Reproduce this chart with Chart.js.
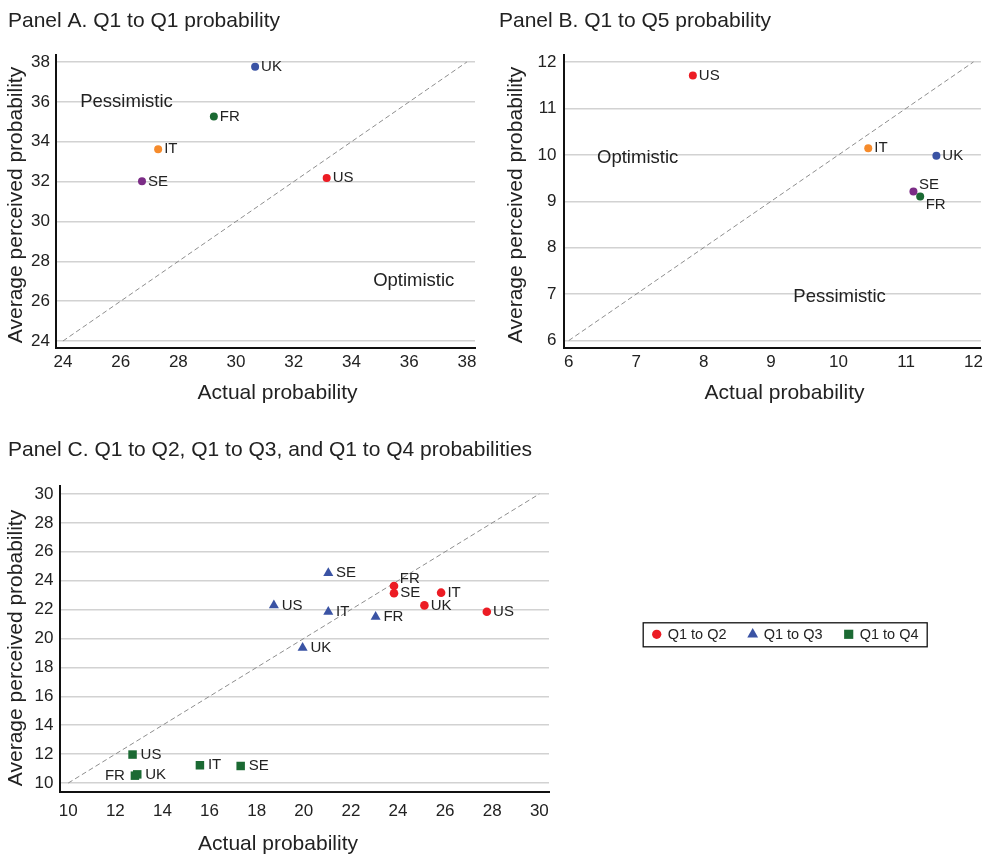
<!DOCTYPE html>
<html>
<head>
<meta charset="utf-8">
<script src="https://cdn.jsdelivr.net/npm/chart.js@4.4.1/dist/chart.umd.min.js"></script>
<style>
  body { margin: 0; background: #fff; }
  #wrap { position: relative; width: 987px; height: 854px; }
  canvas { position: absolute; }
</style>
</head>
<body>
<div id="wrap">
  <canvas id="panelA" width="493" height="420" style="left:0;top:0"></canvas>
  <canvas id="panelB" width="494" height="420" style="left:493px;top:0"></canvas>
  <canvas id="panelC" width="987" height="434" style="left:0;top:420px"></canvas>
</div>
<script>
// Panel A: Q1 to Q1
const countriesA = ['UK', 'FR', 'IT', 'SE', 'US'];
const actualA = [30.66, 29.23, 27.30, 26.74, 33.14];
const perceivedA = [37.76, 35.26, 33.62, 32.01, 32.18];
const ticksA = [24, 26, 28, 30, 32, 34, 36, 38];

// Panel B: Q1 to Q5
const countriesB = ['US', 'IT', 'UK', 'SE', 'FR'];
const actualB = [7.84, 10.44, 11.45, 11.11, 11.21];
const perceivedB = [11.71, 10.14, 9.98, 9.21, 9.10];
const ticksB = [6, 7, 8, 9, 10, 11, 12];

// Panel C: Q1 to Q2 / Q3 / Q4
const countriesC = ['FR', 'IT', 'SE', 'UK', 'US'];
const seriesC = ['Q1 to Q2', 'Q1 to Q3', 'Q1 to Q4'];
const q2Actual = [23.83, 25.83, 23.83, 25.12, 27.77];
const q2Perceived = [23.63, 23.17, 23.13, 22.29, 21.85];
const q3Actual = [23.05, 21.04, 21.04, 19.95, 18.73];
const q3Perceived = [21.50, 21.85, 24.53, 19.36, 22.29];
const q4Actual = [12.83, 15.59, 17.32, 12.93, 12.73];
const q4Perceived = [10.51, 11.23, 11.18, 10.60, 11.97];
const ticksC = [10, 12, 14, 16, 18, 20, 22, 24, 26, 28, 30];

const countryColors = { UK: '#3a53a4', FR: '#1b6a33', IT: '#f68b2b', SE: '#7b2c86', US: '#ec1c24' };
const seriesColors = ['#ec1c24', '#3a53a4', '#1b6a33'];
const seriesShapes = ['circle', 'triangle', 'rect'];
const seriesRadius = [4.3, 5.8, 6];

const FONT = '"Liberation Sans", Arial, Helvetica, sans-serif';
const INK = '#222';
Chart.defaults.font.family = FONT;
Chart.defaults.color = INK;

const toPoints = (xs, ys) => xs.map((x, i) => ({ x: x, y: ys[i] }));

function diagonal(ticks) {
    const lo = ticks[0], hi = ticks[ticks.length - 1];
    return {
        data: [{ x: lo, y: lo }, { x: hi, y: hi }],
        showLine: true,
        borderColor: '#8e8e8e',
        borderWidth: 1,
        borderDash: [5, 3],
        pointRadius: 0,
        inLegend: false
    };
}

// labels next to each marker
const pointLabels = {
    id: 'pointLabels',
    afterDatasetsDraw(chart) {
        const ctx = chart.ctx;
        ctx.save();
        ctx.font = '15px ' + FONT;
        ctx.fillStyle = INK;
        ctx.textBaseline = 'middle';
        chart.data.datasets.forEach((ds, i) => {
            if (!ds.names) return;
            const r = ds.pointRadius;
            chart.getDatasetMeta(i).data.forEach((pt, j) => {
                const name = ds.names[j];
                const spot = (ds.spots && ds.spots[name]) || 'e';
                let x = pt.x + r + 2, y = pt.y;
                ctx.textAlign = 'left';
                if (spot === 'ne') { x = pt.x + r + 1.5; y = pt.y - 7; }
                if (spot === 'se') { x = pt.x + r + 1.5; y = pt.y + 8; }
                if (spot === 'w') { x = pt.x - r - 4; ctx.textAlign = 'right'; }
                ctx.fillText(name, x, y);
            });
        });
        ctx.restore();
    }
};

// Pessimistic / Optimistic notes in data coordinates
const regionNotes = {
    id: 'regionNotes',
    afterDatasetsDraw(chart, args, opts) {
        if (!opts.notes) return;
        const ctx = chart.ctx;
        ctx.save();
        ctx.font = '18.5px ' + FONT;
        ctx.fillStyle = INK;
        ctx.textAlign = 'left';
        ctx.textBaseline = 'middle';
        opts.notes.forEach(n => {
            ctx.fillText(n.text, chart.scales.x.getPixelForValue(n.x), chart.scales.y.getPixelForValue(n.y));
        });
        ctx.restore();
    }
};

// axis titles
const axisCaptions = {
    id: 'axisCaptions',
    afterDraw(chart, args, opts) {
        if (!opts.x) return;
        const ctx = chart.ctx;
        ctx.save();
        ctx.font = '21px ' + FONT;
        ctx.fillStyle = INK;
        ctx.textAlign = 'center';
        ctx.textBaseline = 'middle';
        ctx.fillText(opts.x, opts.xAt[0], opts.xAt[1]);
        ctx.translate(opts.yAt[0], opts.yAt[1]);
        ctx.rotate(-Math.PI / 2);
        ctx.fillText(opts.y, 0, 0);
        ctx.restore();
    }
};

// boxed horizontal legend for panel C
const boxLegend = {
    id: 'boxLegend',
    afterDraw(chart, args, opts) {
        if (!opts.box) return;
        const ctx = chart.ctx;
        const [bx, by, bw, bh] = opts.box;
        ctx.save();
        ctx.strokeStyle = '#111';
        ctx.lineWidth = 1.3;
        ctx.strokeRect(bx + 0.5, by + 0.5, bw, bh);
        ctx.font = '14.5px ' + FONT;
        ctx.textAlign = 'left';
        ctx.textBaseline = 'middle';
        const cy = by + bh / 2;
        chart.data.datasets.filter(d => d.inLegend !== false).forEach((ds, i) => {
            const mx = bx + opts.first + i * opts.step;
            ctx.fillStyle = ds.pointBackgroundColor;
            Chart.helpers.drawPoint(ctx, { pointStyle: ds.pointStyle, radius: ds.pointRadius * 1.08, borderWidth: 0, rotation: 0 }, mx, cy);
            ctx.fillStyle = INK;
            ctx.fillText(ds.label, mx + 11, cy + 0.5);
        });
        ctx.restore();
    }
};

function makePanel(id, p) {
    const ctx = document.getElementById(id).getContext('2d');
    return new Chart(ctx, {
        type: 'scatter',
        data: { datasets: p.datasets },
        options: {
            responsive: false,
            animation: false,
            events: [],
            layout: { padding: p.padding },
            plugins: {
                legend: { display: false },
                tooltip: { enabled: false },
                title: {
                    display: true,
                    text: p.title,
                    align: 'start',
                    color: INK,
                    font: { size: 21, weight: 'normal' },
                    padding: p.titlePad
                },
                regionNotes: { notes: p.notes },
                axisCaptions: p.captions,
                boxLegend: p.legend || {}
            },
            scales: {
                x: {
                    type: 'linear',
                    min: p.xRange[0], max: p.xRange[1],
                    afterBuildTicks: s => { s.ticks = p.ticks.map(v => ({ value: v })); },
                    afterFit: s => { s.height = p.xHeight; },
                    grid: { display: false, drawTicks: false },
                    border: { color: '#111', width: 2 },
                    ticks: { padding: p.xPad, font: { size: 17 }, color: INK }
                },
                y: {
                    type: 'linear',
                    min: p.yRange[0], max: p.yRange[1],
                    afterBuildTicks: s => { s.ticks = p.ticks.map(v => ({ value: v })); },
                    afterFit: s => { s.width = p.yWidth; },
                    grid: { color: '#d2d2d2', lineWidth: 1.5, drawTicks: false },
                    border: { color: '#111', width: 2 },
                    ticks: { padding: p.yPad, font: { size: 17 }, color: INK }
                }
            }
        },
        plugins: [pointLabels, regionNotes, axisCaptions, boxLegend]
    });
}

makePanel('panelA', {
    title: 'Panel A. Q1 to Q1 probability',
    titlePad: { top: 8.4, bottom: 21.4 },
    padding: { left: 8, right: 18, top: 0, bottom: 0 },
    xRange: [23.76, 38.28], yRange: [23.65, 38.35],
    ticks: ticksA, xHeight: 72, yWidth: 48, xPad: 4, yPad: 6,
    notes: [{ text: 'Pessimistic', x: 24.6, y: 36.0 }, { text: 'Optimistic', x: 34.75, y: 27.0 }],
    captions: { x: 'Actual probability', xAt: [277.5, 393], y: 'Average perceived probability', yAt: [16, 205] },
    datasets: [
        {
            data: toPoints(actualA, perceivedA),
            pointBackgroundColor: countriesA.map(c => countryColors[c]),
            pointBorderWidth: 0, pointRadius: 4, pointStyle: 'circle',
            names: countriesA
        },
        diagonal(ticksA)
    ]
});

makePanel('panelB', {
    title: 'Panel B. Q1 to Q5 probability',
    titlePad: { top: 8.4, bottom: 21.4 },
    padding: { left: 6, right: 4, top: 0, bottom: 0 },
    xRange: [5.93, 12.11], yRange: [5.84, 12.15],
    ticks: ticksB, xHeight: 72, yWidth: 65, xPad: 4, yPad: 7.5,
    notes: [{ text: 'Optimistic', x: 6.42, y: 9.94 }, { text: 'Pessimistic', x: 9.33, y: 6.95 }],
    captions: { x: 'Actual probability', xAt: [291.5, 393], y: 'Average perceived probability', yAt: [23.5, 205] },
    datasets: [
        {
            data: toPoints(actualB, perceivedB),
            pointBackgroundColor: countriesB.map(c => countryColors[c]),
            pointBorderWidth: 0, pointRadius: 4, pointStyle: 'circle',
            names: countriesB, spots: { SE: 'ne', FR: 'se' }
        },
        diagonal(ticksB)
    ]
});

const xsC = [q2Actual, q3Actual, q4Actual];
const ysC = [q2Perceived, q3Perceived, q4Perceived];
const spotsC = [{ FR: 'ne' }, {}, { FR: 'w' }];

makePanel('panelC', {
    title: 'Panel C. Q1 to Q2, Q1 to Q3, and Q1 to Q4 probabilities',
    titlePad: { top: 17.4, bottom: 23.4 },
    padding: { left: 8, right: 438, top: 0, bottom: 0 },
    xRange: [9.65, 30.41], yRange: [9.38, 30.55],
    ticks: ticksC, xHeight: 62, yWidth: 52, xPad: 9, yPad: 6.5,
    notes: [],
    captions: { x: 'Actual probability', xAt: [278, 424], y: 'Average perceived probability', yAt: [16.5, 228] },
    legend: { box: [642.7, 202.3, 284, 24], first: 14, step: 96 },
    datasets: seriesC.map((name, k) => ({
        label: name,
        data: toPoints(xsC[k], ysC[k]),
        pointBackgroundColor: seriesColors[k],
        pointBorderWidth: 0,
        pointRadius: seriesRadius[k],
        pointStyle: seriesShapes[k],
        names: countriesC,
        spots: spotsC[k]
    })).concat([diagonal(ticksC)])
});
</script>
</body>
</html>
